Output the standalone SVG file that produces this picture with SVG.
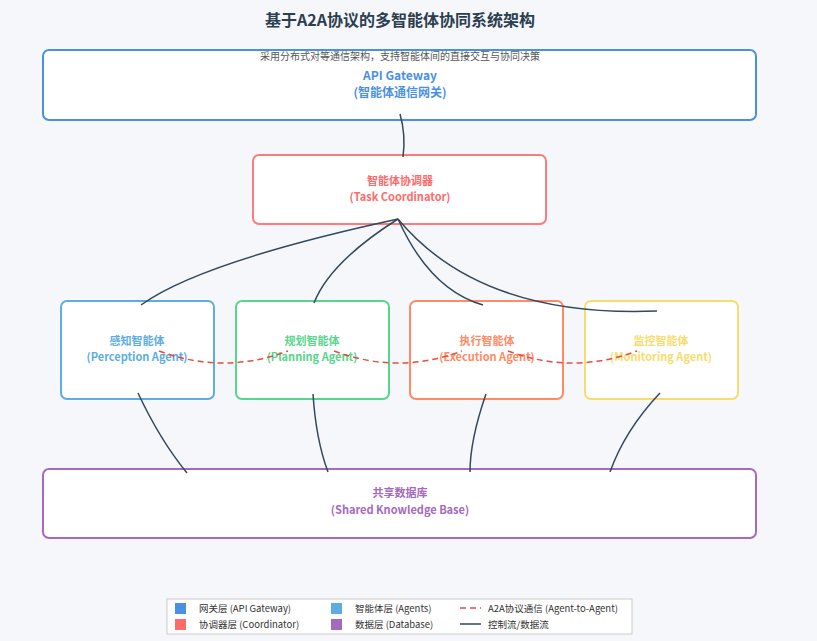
<svg xmlns="http://www.w3.org/2000/svg" width="817" height="641" viewBox="0 0 817 641">
<style>
text{font-family:"Noto Sans CJK SC","Noto Sans",sans-serif;text-anchor:middle}
.box{fill:#fff;stroke-width:2}
.lbl{font-size:11px;font-weight:bold}
.c{fill:none;stroke:#34495e;stroke-width:1.5}
.d{fill:none;stroke:#e74c3c;stroke-width:1.5;stroke-dasharray:6,4}
.lg{font-size:9.5px;fill:#333;text-anchor:start}
</style>
<rect width="817" height="641" fill="#f6f7fb"/>
<text x="400" y="26" font-size="16" font-weight="bold" fill="#2c3e50">基于A2A协议的多智能体协同系统架构</text>
<g id="gateway"><rect class="box" x="43" y="50" width="713" height="70" rx="6" stroke="#4a90e2"/>
<text x="400" y="60" font-size="10" fill="#555">采用分布式对等通信架构，支持智能体间的直接交互与协同决策</text>
<text x="400" y="80" font-size="12" font-weight="bold" fill="#4a90e2">API Gateway</text>
<text x="400" y="97" font-size="12" font-weight="bold" fill="#4a90e2">(智能体通信网关)</text></g>
<g id="coordinator"><rect class="box" x="253" y="155" width="293" height="69" rx="6" stroke="#ff7b7b"/>
<text x="400" y="185" class="lbl" fill="#ff6b6b">智能体协调器</text>
<text x="400" y="201" class="lbl" fill="#ff6b6b">(Task Coordinator)</text></g>
<g id="perception"><rect class="box" x="61" y="301" width="153" height="98" rx="6" stroke="#5dade2"/>
<text x="137" y="345" class="lbl" fill="#5dade2">感知智能体</text><text x="137" y="361" class="lbl" fill="#5dade2">(Perception Agent)</text></g>
<g id="planning"><rect class="box" x="236" y="301" width="153" height="98" rx="6" stroke="#58d68d"/>
<text x="312" y="345" class="lbl" fill="#58d68d">规划智能体</text><text x="312" y="361" class="lbl" fill="#58d68d">(Planning Agent)</text></g>
<g id="execution"><rect class="box" x="410" y="301" width="153" height="98" rx="6" stroke="#ff8a65"/>
<text x="487" y="345" class="lbl" fill="#ff8a65">执行智能体</text><text x="487" y="361" class="lbl" fill="#ff8a65">(Execution Agent)</text></g>
<g id="monitoring"><rect class="box" x="585" y="301" width="153" height="98" rx="6" stroke="#f7dc6f"/>
<text x="661" y="345" class="lbl" fill="#f7dc6f">监控智能体</text><text x="661" y="361" class="lbl" fill="#f7dc6f">(Monitoring Agent)</text></g>
<g id="knowledge"><rect class="box" x="43" y="469" width="713" height="69" rx="6" stroke="#a569bd"/>
<text x="400" y="497" class="lbl" fill="#a569bd">共享数据库</text><text x="400" y="514" class="lbl" fill="#a569bd">(Shared Knowledge Base)</text></g>
<g id="connectors">
<path class="c" d="M400,114 Q406,135 403,157"/>
<path class="c" d="M398,219 Q200,262 141,305"/>
<path class="c" d="M398,219 Q330,262 314,303"/>
<path class="c" d="M398,219 Q430,290 483,305"/>
<path class="c" d="M398,219 Q480,318 657,311"/>
<path class="c" d="M138,393 Q160,440 187,473"/>
<path class="c" d="M313,394 Q316,440 328,472"/>
<path class="c" d="M486,394 Q470,440 470,472"/>
<path class="c" d="M660,393 Q625,430 610,472"/>
<path class="d" d="M159,351 Q223,375 288,351"/>
<path class="d" d="M334,351 Q398,375 462,351"/>
<path class="d" d="M508,351 Q572,375 637,351"/>
</g>
<g id="legend">
<rect x="167" y="599" width="465" height="35" fill="#fff" stroke="#ccc"/>
<rect x="175" y="603" width="11" height="11" fill="#4a90e2"/><text class="lg" x="199" y="612">网关层 (API Gateway)</text>
<rect x="175" y="619" width="11" height="11" fill="#ff6b6b"/><text class="lg" x="199" y="628">协调器层 (Coordinator)</text>
<rect x="331" y="603" width="11" height="11" fill="#5dade2"/><text class="lg" x="355" y="612">智能体层 (Agents)</text>
<rect x="331" y="619" width="11" height="11" fill="#a569bd"/><text class="lg" x="355" y="628">数据层 (Database)</text>
<line x1="460" y1="608" x2="481" y2="608" stroke="#e74c3c" stroke-width="1.5" stroke-dasharray="6,4"/><text class="lg" x="488" y="612">A2A协议通信 (Agent-to-Agent)</text>
<line x1="460" y1="624" x2="481" y2="624" stroke="#34495e" stroke-width="1.5"/><text class="lg" x="488" y="628">控制流/数据流</text>
</g>
</svg>
